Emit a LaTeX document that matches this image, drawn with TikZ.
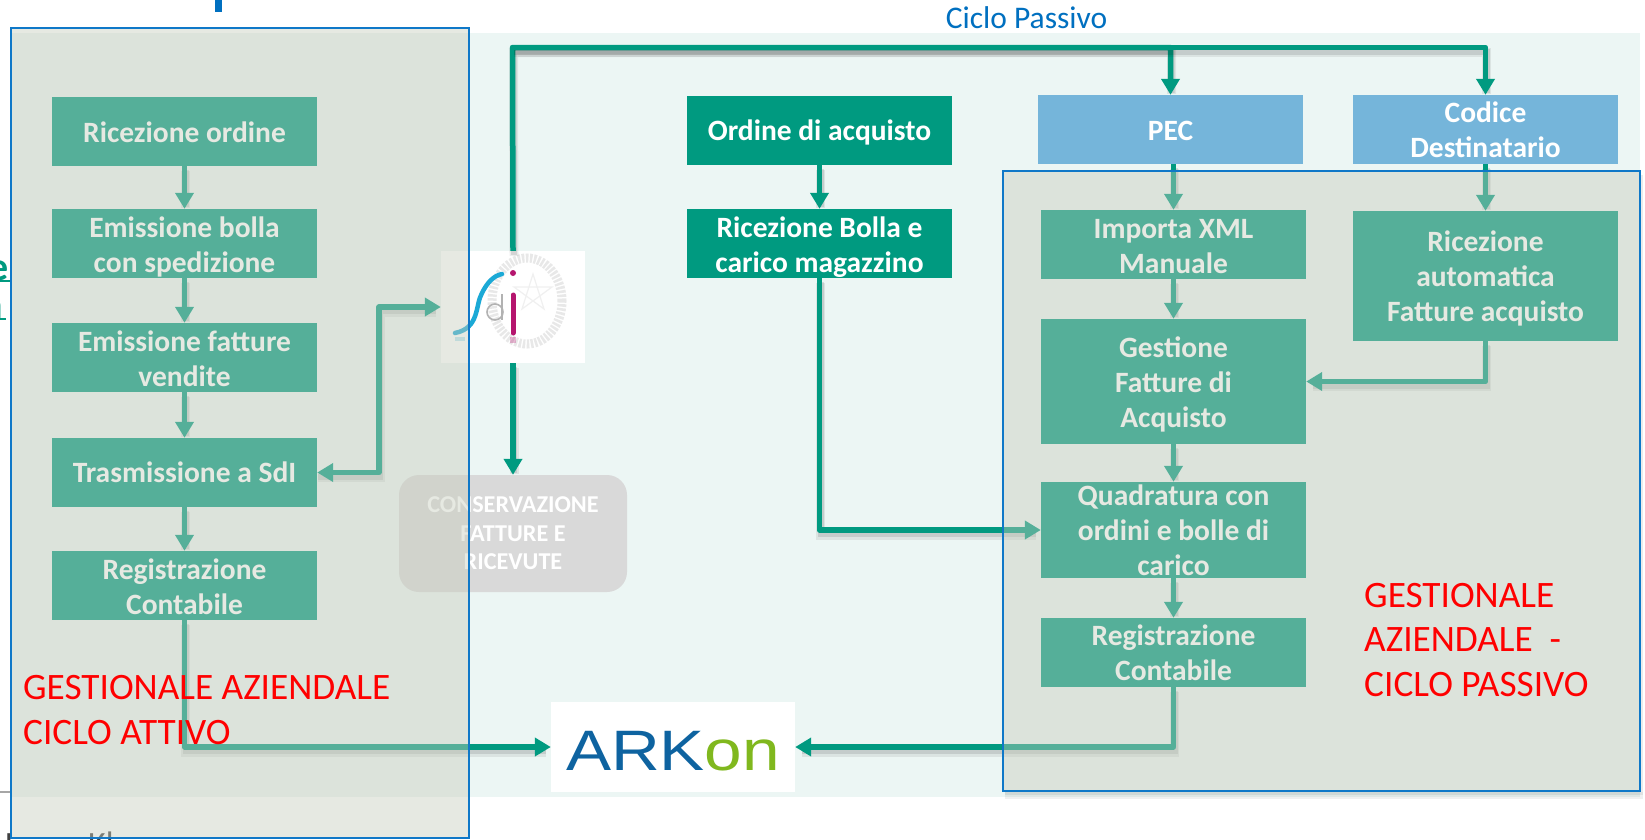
\documentclass[tikz,border=0pt]{standalone}
\usepackage{fontspec}
\setmainfont{Carlito}
\newfontfamily\logofont{Liberation Sans}
\usetikzlibrary{arrows.meta}
\newcommand\pushdown[1]{\rule{0pt}{\dimexpr 21pt+2\dimexpr #1pt\relax\relax}}
\definecolor{gdark}{HTML}{009A80}
\definecolor{gblue}{HTML}{75B5DA}
\definecolor{pale}{HTML}{ECF6F4}
\definecolor{frameblue}{HTML}{0F78C8}
\definecolor{overlayc}{RGB}{199,204,188}
\definecolor{titleblue}{HTML}{0070C0}
\definecolor{arkblue}{HTML}{0E63A0}
\definecolor{arkgreen}{HTML}{80B81E}
\definecolor{sdiblue}{HTML}{1BA9D6}
\definecolor{sdipink}{HTML}{B5156E}
\tikzset{
  flowbox/.style={rectangle,fill=gdark,text=white,inner sep=0pt,align=center,
    font=\fontsize{29.5}{35}\selectfont\bfseries},
  bluebox/.style={flowbox,fill=gblue},
  conn/.style={draw=gdark,line width=5.5pt,line join=round,-{Triangle[width=18pt,length=16pt]},
    preaction={draw=black,draw opacity=.10,line width=6pt,-,shorten >=6pt,transform canvas={shift={(1pt,-4pt)}}},
    preaction={draw=black,draw opacity=.07,line width=9pt,-,shorten >=6pt,transform canvas={shift={(1pt,-5pt)}}}},
  conntwo/.style={conn,{Triangle[width=18pt,length=16pt]}-{Triangle[width=18pt,length=16pt]}},
  overlayframe/.style={draw=frameblue,line width=1.6pt,fill=overlayc,fill opacity=.43,draw opacity=1},
  redlabel/.style={text=red,inner sep=0pt,anchor=base west,font=\fontsize{37.3}{45}\selectfont},
  fragment/.style={inner sep=0pt,text=gdark,anchor=base east,font=\fontsize{40}{40}\selectfont\bfseries},
}
\begin{document}
\begin{tikzpicture}[x=1pt,y=-1pt]
\useasboundingbox (0,0) rectangle (1645,839);
\fill[white] (0,0) rectangle (1645,839);
% pale panel
\fill[pale] (11,33) rectangle (1640,797);
% cut-off fragments
\fill[titleblue] (215,0) rectangle (221.5,12);
\begin{scope}
\clip (0,240) rectangle (10,322);
\node[fragment] (fragA) at (9,280) {e};
\node[fragment] (fragB) at (3,318) {n};
\fill[gdark] (0,280) rectangle (10,282);
\fill[gdark] (0,318) rectangle (6,320);
\end{scope}
\fill[black!35] (0,791) rectangle (11,793);
\begin{scope}
\clip (0,800) rectangle (200,839);
\node[inner sep=0pt,anchor=base west,text=black!75,font=\fontsize{34}{34}\selectfont] (fragC) at (5,855) {L};
\node[inner sep=0pt,anchor=base west,text=black!75,font=\fontsize{34}{34}\selectfont] (fragD) at (88,855) {Kl};
\end{scope}
% logos
\node[fill=white,minimum width=144pt,minimum height=112pt,inner sep=0pt] (sdi) at (513,307) {};
\draw[black!9,line width=9pt,dash pattern=on 2.5pt off 1.5pt] (527,301) ellipse [x radius=35pt,y radius=43pt];
\draw[black!6,line width=1.2pt] (533,274) -- (544,309) -- (514,287) -- (552,287) -- (522,309) -- cycle;
\fill[sdiblue,opacity=.3] (455,337) rectangle (465,341);
\fill[sdipink,opacity=.3] (510,337) rectangle (516,343);
\draw[sdiblue,line width=4.5pt,line cap=round] (455,333) .. controls (480,328) and (475,305) .. (482,293) .. controls (487,283) and (493,276) .. (502,274);
\fill[sdipink] (513,273) circle (3pt);
\draw[sdipink,line width=5pt,line cap=round] (513,295) -- (513,333);
\draw[black!30,line width=1.6pt] (495,312) circle (8pt);
\draw[black!30,line width=1.6pt] (502,294) -- (502,320);
\node[fill=white,minimum width=244pt,minimum height=90pt,inner sep=0pt,
  font=\logofont\fontsize{57}{57}\selectfont] (arkon) at (673,747) {\rule{0pt}{47pt}\scalebox{1.185}[1]{\textcolor{arkblue}{ARK}\textcolor{arkgreen}{on}}};
% left boxes
\node[flowbox,minimum width=265pt,minimum height=69pt] (a1) at (184.5,131.5) {\pushdown{1}Ricezione ordine};
\node[flowbox,minimum width=265pt,minimum height=69pt] (a2) at (184.5,243.5) {\pushdown{3}Emissione bolla\\con spedizione};
\node[flowbox,minimum width=265pt,minimum height=69pt] (a3) at (184.5,357.5) {\pushdown{1}Emissione fatture\\vendite};
\node[flowbox,minimum width=265pt,minimum height=69pt] (a4) at (184.5,472.5) {Trasmissione a SdI};
\node[flowbox,minimum width=265pt,minimum height=69pt] (a5) at (184.5,585.5) {\pushdown{1}Registrazione\\Contabile};
% conservazione
\node[rectangle,rounded corners=20pt,fill=black!15,text=white,inner sep=0pt,align=center,
  minimum width=228pt,minimum height=117pt,font=\fontsize{24.2}{28.5}\selectfont\bfseries] (cons) at (513,533.5) {CONSERVAZIONE\\FATTURE E\\RICEVUTE};
% middle
\node[flowbox,minimum width=265pt,minimum height=69pt] (m1) at (819.5,130.5) {\pushdown{2}Ordine di acquisto};
\node[flowbox,minimum width=265pt,minimum height=69pt] (m2) at (819.5,243.5) {\pushdown{3}Ricezione Bolla e\\carico magazzino};
% right top
\node[bluebox,minimum width=265pt,minimum height=69pt] (pec) at (1170.5,129.5) {\pushdown{1}PEC};
\node[bluebox,minimum width=265pt,minimum height=69pt] (cod) at (1485.5,129.5) {Codice\\Destinatario};
% right column
\node[flowbox,minimum width=265pt,minimum height=69pt] (r1) at (1173.5,244.5) {\pushdown{1}Importa XML\\Manuale};
\node[flowbox,minimum width=265pt,minimum height=130pt] (q1) at (1485.5,276) {\pushdown{2}Ricezione\\automatica\\Fatture acquisto};
\node[flowbox,minimum width=265pt,minimum height=125pt] (r2) at (1173.5,381.5) {\pushdown{3}Gestione\\Fatture di\\Acquisto};
\node[flowbox,minimum width=265pt,minimum height=96pt] (r3) at (1173.5,530) {Quadratura con\\ordini e bolle di\\carico};
\node[flowbox,minimum width=265pt,minimum height=69pt] (r4) at (1173.5,652.5) {Registrazione\\Contabile};
% helper corners
\coordinate (top) at (512.5,47.5);
% connectors
\draw[conn] (a1.south) -- (a2.north);
\draw[conn] (a2.south) -- (a3.north);
\draw[conn] (a3.south) -- (a4.north);
\draw[conn] (a4.south) -- (a5.north);
\draw[conntwo] (a4.east) -- (379,472.5) |- (sdi.west);
\draw[conn] (a5.south) |- (arkon.west);
\draw[conn] (sdi.north) -- (top) -| (pec.north);
\draw[conn] (top) -| (cod.north);
\draw[conn] (sdi.south) -- (cons.north);
\draw[conn] (m1.south) -- (m2.north);
\draw[conn] (m2.south) |- (r3.west);
\draw[conn] (1173.5,164) -- (r1.north);
\draw[conn] (cod.south) -- (q1.north);
\draw[conn] (r1.south) -- (r2.north);
\draw[conn] (q1.south) |- (r2.east);
\draw[conn] (r2.south) -- (r3.north);
\draw[conn] (r3.south) -- (r4.north);
\draw[conn] (r4.south) |- (arkon.east);
% overlay frames
\fill[black,opacity=.12] (1005,792) rectangle (1643,795);
\fill[black,opacity=.06] (1005,795) rectangle (1643,799);
\fill[black,opacity=.08] (1641,175) rectangle (1643,792);
\path[overlayframe] (11,28) rectangle (469,838);
\path[overlayframe] (1003,171) rectangle (1640,791);
% red labels
\node[redlabel] (la1) at (23,699) {GESTIONALE AZIENDALE};
\node[redlabel] (la2) at (23,744) {CICLO ATTIVO};
\node[redlabel] (lb1) at (1364,607) {GESTIONALE};
\node[redlabel] (lb2) at (1364,651) {AZIENDALE\ \ -};
\node[redlabel] (lb3) at (1364,696) {CICLO PASSIVO};
% title
\node[inner sep=0pt,text=titleblue,font=\fontsize{31.5}{34}\selectfont] (title) at (1026.5,18) {Ciclo Passivo};
\end{tikzpicture}
\end{document}
